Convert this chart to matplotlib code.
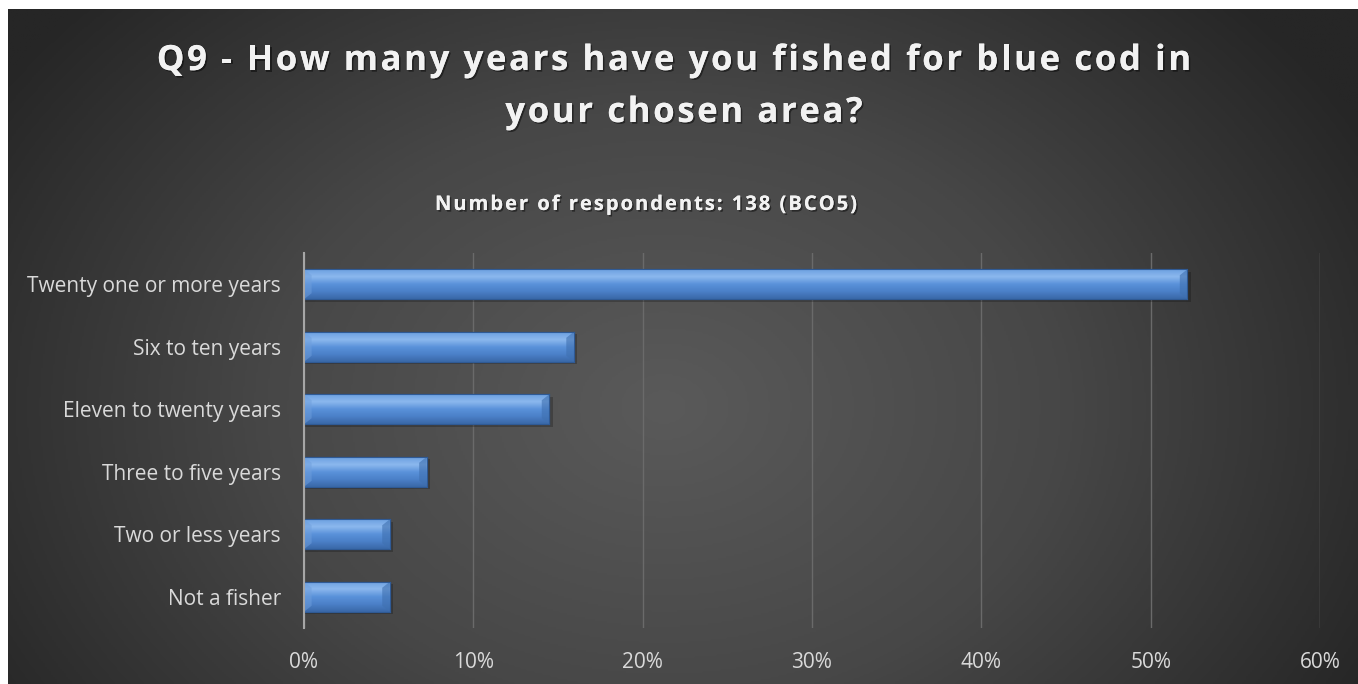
import numpy as np
import matplotlib
matplotlib.use("Agg")
import matplotlib.pyplot as plt
import matplotlib.patheffects as pe
from matplotlib import ft2font, font_manager
from matplotlib.colors import LinearSegmentedColormap
from matplotlib.ticker import PercentFormatter

# data (share of 138 respondents)
categories = ["Twenty one or more years", "Six to ten years", "Eleven to twenty years",
              "Three to five years", "Two or less years", "Not a fisher"]
shares = [52.17, 15.94, 14.49, 7.25, 5.07, 5.07]
xticks = [0, 10, 20, 30, 40, 50, 60]

title_lines = ["Q9 - How many years have you fished for blue cod in", "your chosen area?"]
subtitle = "Number of respondents: 138 (BCO5)"

W, H = 1358, 684
fig = plt.figure(figsize=(W / 100, H / 100), dpi=100, facecolor="white")

# dark radial background
bg = fig.add_axes([8 / W, 0, (W - 8) / W, (H - 9) / H])
bg.set_axis_off()
yy, xx = np.mgrid[0:340, 0:680]
r = np.sqrt(((xx - 330) / 400) ** 2 + ((yy - 200) / 300) ** 2)
r = np.clip(r, 0, 1)
bg_cmap = LinearSegmentedColormap.from_list("bg", ["#5a5a5a", "#474747", "#262626"])
bg.imshow(r, cmap=bg_cmap, vmin=0, vmax=1, aspect="auto", interpolation="bilinear")

shadow = [pe.withSimplePatchShadow(offset=(1.2, -1.2), shadow_rgbFace="black", alpha=0.45), pe.Normal()]


def spaced_text(s, cx, base_y, size, track):
    # draw s letter by letter (pixel coords from top left) with extra tracking
    fp = font_manager.FontProperties(family="Open Sans", weight="bold")
    ft = ft2font.FT2Font(font_manager.findfont(fp))
    ft.set_size(size, 100)
    adv = [ft.load_char(ord(c)).linearHoriAdvance / 65536 for c in s]
    total = sum(adv) + track * (len(s) - 1)
    x = cx - total / 2
    for c, a in zip(s, adv):
        if c != " ":
            fig.text(x / W, 1 - base_y / H, c, ha="left", va="baseline", color="#f2f2f2",
                     fontsize=size, fontweight="bold", family="Open Sans", path_effects=shadow)
        x += a + track


spaced_text(title_lines[0], 674, 70, 25, 2.6)
spaced_text(title_lines[1], 684, 122, 25, 2.6)
spaced_text(subtitle, 646, 210, 14.5, 2.0)

ax = fig.add_axes([304 / W, 1 - 628 / H, (1320 - 304) / W, (628 - 253) / H])
ax.patch.set_alpha(0)
y = np.arange(len(categories))[::-1]
bars = ax.barh(y, shares, height=0.48, color="#5588cc", edgecolor="#2f5a95", linewidth=0.8, zorder=3)

# bevel-like vertical gradient inside every bar
bar_cmap = LinearSegmentedColormap.from_list("bar", ["#3a68a8", "#4b80c8", "#5a92da", "#8cb8ee", "#6ca0e0"])
grad = np.linspace(0, 1, 64).reshape(-1, 1)
for b in bars:
    x0, y0, w, h = b.get_x(), b.get_y(), b.get_width(), b.get_height()
    # soft drop shadow
    ax.add_patch(plt.Rectangle((x0, y0 - 0.04), w + 0.2, h, color="black", alpha=0.22,
                               zorder=2, linewidth=0))
    im = ax.imshow(grad, cmap=bar_cmap, extent=(x0, x0 + w, y0, y0 + h), aspect="auto",
                   origin="lower", zorder=3.5, interpolation="bilinear")
    im.set_clip_path(b)
    # end bevels
    d = 0.45
    ax.fill([x0 + w, x0 + w - d, x0 + w - d, x0 + w],
            [y0, y0 + h * 0.2, y0 + h * 0.8, y0 + h], color="#3f70b0", alpha=0.6, zorder=3.6, lw=0)
    ax.fill([x0, x0 + d, x0 + d, x0],
            [y0, y0 + h * 0.2, y0 + h * 0.8, y0 + h], color="#6f9fdd", alpha=0.5, zorder=3.6, lw=0)
    ax.plot([x0, x0 + w], [y0 + h, y0 + h], color="#2f5a95", lw=0.8, zorder=3.7)
    ax.plot([x0, x0 + w], [y0, y0], color="#2f5a95", lw=0.8, zorder=3.7)
    ax.plot([x0 + w, x0 + w], [y0, y0 + h], color="#2f5a95", lw=0.8, zorder=3.7)

ax.set_xlim(0, 60)
ax.set_ylim(-0.5, len(categories) - 0.5)
ax.set_xticks(xticks)
ax.xaxis.set_major_formatter(PercentFormatter(decimals=0))
ax.set_yticks(y)
ax.set_yticklabels(categories)
ax.grid(axis="x", color="#6a6a6a", linewidth=1, zorder=1)
for s in ["top", "right", "bottom"]:
    ax.spines[s].set_visible(False)
ax.spines["left"].set_color("#a6a6a6")
ax.spines["left"].set_linewidth(1.5)
ax.spines["left"].set_zorder(4)
ax.tick_params(length=0, colors="#d9d9d9", labelsize=15)
ax.tick_params(axis="y", pad=16.5)
ax.tick_params(axis="x", pad=17)
for lab in ax.get_xticklabels() + ax.get_yticklabels():
    lab.set_family("Open Sans")
    lab.set_color("#d9d9d9")

fig.savefig("out.png", dpi=100, facecolor="white")
